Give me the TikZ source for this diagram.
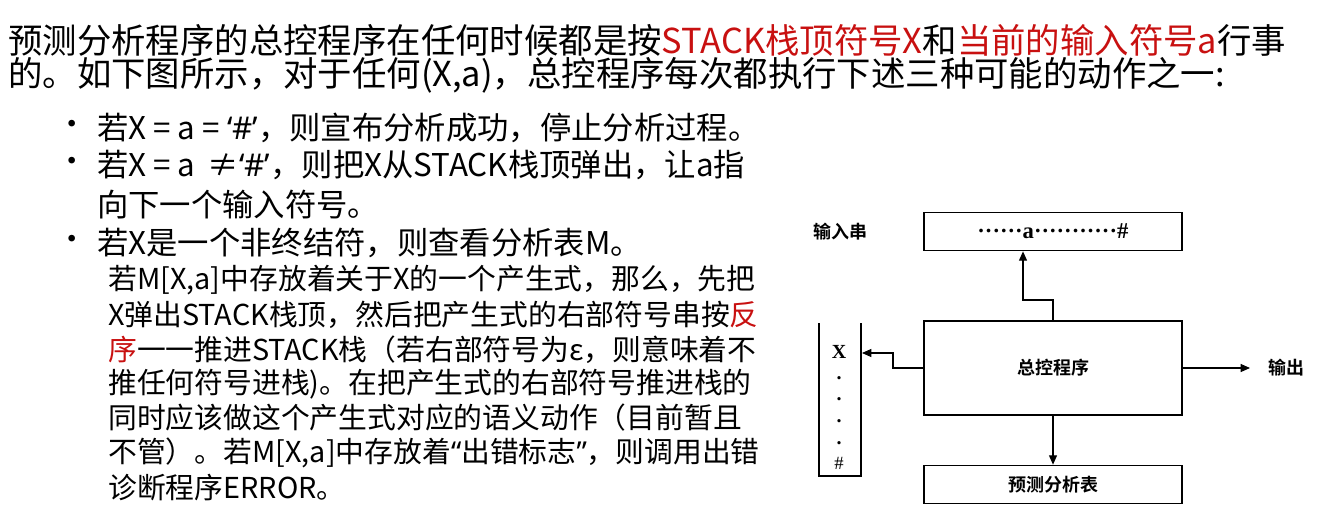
\documentclass[tikz,border=0pt]{standalone}
\usepackage{fontspec}
\setmainfont{Noto Sans CJK SC}
\newfontfamily\cjkb{Noto Sans CJK SC Bold}
\newfontfamily\tms{Liberation Serif}
\newfontfamily\lat{Noto Sans}
\newcommand{\q}[1]{{\lat #1}}
\usetikzlibrary{arrows.meta}
\definecolor{hl}{RGB}{200,16,16}
\begin{document}
\begin{tikzpicture}[x=0.75pt,y=-0.75pt,
  tl/.style={anchor=west,inner sep=0pt,font=\fontsize{25.8}{28}\selectfont},
  bl/.style={anchor=west,inner sep=0pt,font=\fontsize{23.5}{25}\selectfont},
  sl/.style={anchor=west,inner sep=0pt,font=\fontsize{21.6}{24}\selectfont},
  box/.style={draw,line width=0.8pt,minimum width=193.5pt,inner sep=0pt},
  lab/.style={font=\cjkb\fontsize{13.5}{14}\selectfont},
  arr/.style={line width=0.8pt,-{Triangle[length=7pt,width=6pt]}}]
\useasboundingbox (0,0) rectangle (1320,514);
\node[tl] (t1) at (8,40) {预测分析程序的总控程序在任何时候都是按\textcolor{hl}{STACK栈顶符号X}和\textcolor{hl}{当前的输入符号a}行事};
\node[tl] (t2) at (8,75) {的。如下图所示，对于任何(X,a)，总控程序每次都执行下述三种可能的动作之一:};
\foreach \y/\n in {128/b1,165/b2,243/b3} \node[bl] (\n) at (56,\y) {•};
\node[bl] (l1) at (97,128) {若X = a = \q{‘\#’}，则宣布分析成功，停止分析过程。};
\node[bl] (l2) at (97,165) {若X = a \,≠\q{‘\#’}，则把X从STACK栈顶弹出，让a指};
\node[bl] (l3) at (97,205) {向下一个输入符号。};
\node[bl] (l4) at (97,243) {若X是一个非终结符，则查看分析表M。};
\node[sl] (s1) at (108,280) {若M[X,a]中存放着关于X的一个产生式，那么，先把};
\node[sl] (s2) at (108,315) {X弹出STACK栈顶，然后把产生式的右部符号串按\textcolor{hl}{反}};
\node[sl] (s3) at (108,350) {\textcolor{hl}{序}一一推进STACK栈（若右部符号为ε，则意味着不};
\node[sl] (s4) at (108,384) {推任何符号进栈)。在把产生式的右部符号推进栈的};
\node[sl] (s5) at (108,418) {同时应该做这个产生式对应的语义动作（目前暂且};
\node[sl] (s6) at (108,453) {不管）。若M[X,a]中存放着\q{“}出错标志\q{”}，则调用出错};
\node[sl] (s7) at (108,488) {诊断程序ERROR。};
% diagram
\node[box,minimum height=29pt] (inp) at (1053,231.5) {\tms\bfseries\fontsize{17}{18}\selectfont ······a···········\#};
\node[box,minimum height=70.5pt] (ctl) at (1053,368) {};
\node[lab] (ctlt) at (1053,368) {总控程序};
\node[box,minimum height=29pt] (tab) at (1053,484.5) {};
\node[lab] (tabt) at (1053,484.5) {预测分析表};
\node[lab] (inl) at (840,232) {输入串};
\node[lab] (outl) at (1286,368) {输出};
\coordinate (sl) at (819,323); \coordinate (sr) at (861,323);
\draw[line width=0.8pt] (sl) |- (861,476) -- (sr);
\node[font=\tms\bfseries\fontsize{15}{15}\selectfont] (sx) at (839,352) {X};
\foreach \y/\n in {378/d1,399/d2,421/d3,443/d4} \node[font=\tms\bfseries\fontsize{15}{12}\selectfont,inner sep=0pt] (\n) at (839,\y) {.};
\node[font=\tms\fontsize{14}{14}\selectfont] (sh) at (839,463) {\#};
\coordinate (st) at (862,353);
\draw[arr] (ctl.west) -| (893,353) -- (st);
\draw[arr] (ctl.north) |- (1023,300) -- (inp.south -| 1023,0);
\draw[arr] (ctl.south) -- (tab.north);
\draw[arr] (ctl.east) -- (outl.west -| 1250,0);
\end{tikzpicture}
\end{document}
